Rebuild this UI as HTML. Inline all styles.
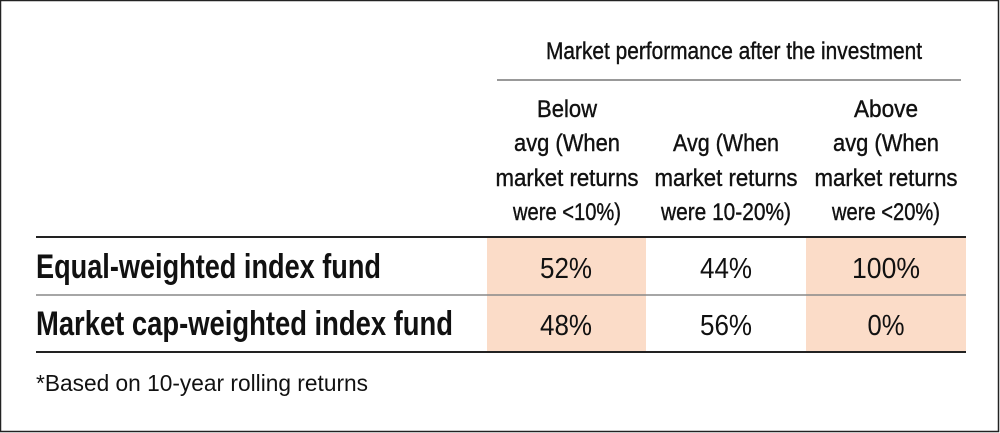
<!DOCTYPE html>
<html><head><meta charset="utf-8"><style>
html,body{margin:0;padding:0;background:#fff}
svg{display:block}
text{font-family:"Liberation Sans Narrow","Liberation Sans",sans-serif;fill:#111}
</style></head><body>
<svg width="1000" height="433" viewBox="0 0 1000 433">
<rect x="0.5" y="0.5" width="998" height="431" fill="#fff" stroke="#222" stroke-width="1.5"/>
<rect x="487" y="237" width="159" height="115" fill="#fbdcc8"/>
<rect x="806" y="237" width="160" height="115" fill="#fbdcc8"/>
<line x1="497" y1="80" x2="961" y2="80" stroke="#999" stroke-width="2"/>
<line x1="36" y1="237" x2="966" y2="237" stroke="#222" stroke-width="2"/>
<line x1="36" y1="295" x2="966" y2="295" stroke="#888" stroke-width="1.5"/>
<line x1="36" y1="352" x2="966" y2="352" stroke="#222" stroke-width="2"/>
<g font-size="24" text-anchor="middle" stroke="#111" stroke-width="0.4">
<text x="734" y="59" textLength="376" lengthAdjust="spacingAndGlyphs">Market performance after the investment</text>
<text x="567" y="117" textLength="60" lengthAdjust="spacingAndGlyphs">Below</text>
<text x="567" y="151" textLength="106" lengthAdjust="spacingAndGlyphs">avg (When</text>
<text x="567" y="186" textLength="143" lengthAdjust="spacingAndGlyphs">market returns</text>
<text x="567" y="220" textLength="108" lengthAdjust="spacingAndGlyphs">were &lt;10%)</text>
<text x="726" y="151" textLength="106" lengthAdjust="spacingAndGlyphs">Avg (When</text>
<text x="726" y="186" textLength="143" lengthAdjust="spacingAndGlyphs">market returns</text>
<text x="726" y="220" textLength="130" lengthAdjust="spacingAndGlyphs">were 10-20%)</text>
<text x="886" y="117" textLength="64" lengthAdjust="spacingAndGlyphs">Above</text>
<text x="886" y="151" textLength="106" lengthAdjust="spacingAndGlyphs">avg (When</text>
<text x="886" y="186" textLength="143" lengthAdjust="spacingAndGlyphs">market returns</text>
<text x="886" y="220" textLength="108" lengthAdjust="spacingAndGlyphs">were &lt;20%)</text>
</g>
<g font-size="34" font-weight="bold">
<text x="36" y="278" textLength="345" lengthAdjust="spacingAndGlyphs">Equal-weighted index fund</text>
<text x="36" y="335" textLength="417" lengthAdjust="spacingAndGlyphs">Market cap-weighted index fund</text>
</g>
<g font-size="29" text-anchor="middle">
<text x="566" y="278" textLength="52" lengthAdjust="spacingAndGlyphs">52%</text>
<text x="726" y="278" textLength="52" lengthAdjust="spacingAndGlyphs">44%</text>
<text x="886" y="278" textLength="68" lengthAdjust="spacingAndGlyphs">100%</text>
<text x="566" y="335" textLength="52" lengthAdjust="spacingAndGlyphs">48%</text>
<text x="726" y="335" textLength="52" lengthAdjust="spacingAndGlyphs">56%</text>
<text x="886" y="335" textLength="37" lengthAdjust="spacingAndGlyphs">0%</text>
</g>
<text x="36" y="391" font-size="23" textLength="332" lengthAdjust="spacingAndGlyphs">*Based on 10-year rolling returns</text>
</svg>
</body></html>
